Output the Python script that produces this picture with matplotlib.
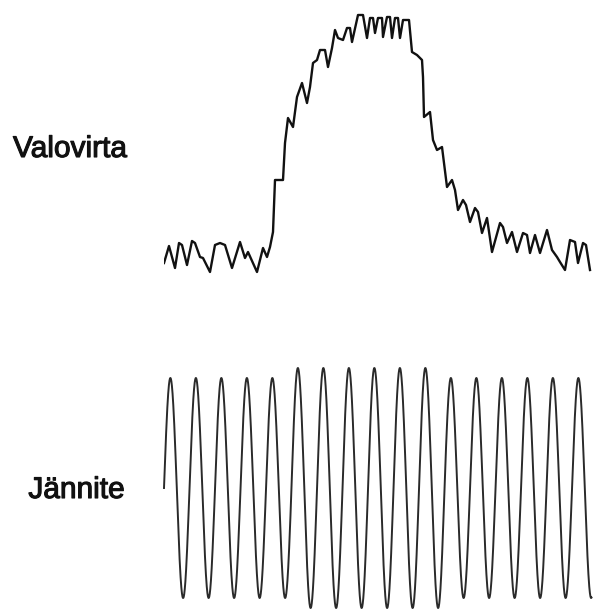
import numpy as np
import matplotlib
matplotlib.use("Agg")
from matplotlib import pyplot as plt
from matplotlib import patheffects as pe

# light flux trace: (time in samples, relative level)
flux_trace = [
    (0, 12), (5, 29), (11, 7), (15, 32), (18, 30), (23, 10), (28, 34), (31, 32),
    (36, 18), (39, 17), (46, 3), (51, 30), (56, 32), (61, 30), (68, 7), (76, 33),
    (81, 17), (84, 23), (93, 3), (99, 27), (103, 18), (106, 28), (109, 43),
    (111, 95), (119, 95), (121, 132), (124, 157), (129, 148), (133, 178), (138, 192),
    (143, 172), (146, 188), (149, 212), (153, 215), (156, 225), (161, 225), (164, 208),
    (168, 227), (171, 245), (174, 237), (179, 235), (183, 247), (186, 247), (188, 233),
    (194, 260), (199, 260), (203, 237), (206, 257), (209, 257), (211, 242), (214, 257),
    (218, 257), (219, 238), (223, 258), (226, 258), (228, 237), (231, 257), (234, 257),
    (236, 237), (239, 255), (245, 255), (248, 223), (253, 220), (258, 215), (259, 198),
    (260, 158), (266, 163), (269, 135), (273, 125), (278, 128), (283, 88), (288, 95),
    (291, 85), (294, 65), (299, 75), (302, 70), (306, 53), (311, 67), (314, 63),
    (318, 42), (323, 57), (328, 23), (336, 52), (339, 48), (343, 32), (348, 43),
    (353, 23), (359, 42), (363, 40), (366, 22), (371, 40), (376, 22), (383, 45),
    (388, 25), (393, 18), (396, 13), (401, 5), (406, 35), (411, 33), (414, 12),
    (419, 32), (422, 30), (426, 5),
]
flux_t = [p[0] for p in flux_trace]
flux_v = [p[1] for p in flux_trace]

# supply voltage: amplitude of each cycle
volt_period = 25.5
volt_amp = [110, 110, 110, 110, 110, 120, 120, 120, 120, 120, 120,
            110, 110, 110, 110, 110, 110]
volt_end = 427.5

labels = ["Valovirta", "Jännite"]

W, H = 593, 609
fig = plt.figure(figsize=(W / 100, H / 100), dpi=100)
fig.patch.set_facecolor("white")

def px_axes(x0, x1, y0, y1):
    # axes placed by pixel box (top-left origin)
    return fig.add_axes([x0 / W, 1 - y1 / H, (x1 - x0) / W, (y1 - y0) / H])

ax1 = px_axes(164, 593, 0, 290)
ax1.plot(flux_t, flux_v, color="#111111", lw=1.7, solid_joinstyle="round")
ax1.set_xlim(0, 429)
ax1.set_ylim(-15, 275)
ax1.axis("off")

ax2 = px_axes(164, 593, 360, 609)
t = np.linspace(0, volt_end, 4000)
cyc = np.clip((t / volt_period).astype(int), 0, len(volt_amp) - 1)
amp = np.array(volt_amp)[cyc]
v = amp * np.sin(2 * np.pi * t / volt_period)
ax2.plot(t, v, color="#2a2a2a", lw=1.4, clip_on=False)
ax2.set_xlim(0, 429)
ax2.set_ylim(-121, 128)
ax2.axis("off")

# slightly heavier text, like the scanned original
heavy = [pe.withStroke(linewidth=0.8, foreground="#111")]
fig.text(127 / W, 1 - 157 / H, labels[0], ha="right", va="baseline",
         fontsize=21.5, family="Liberation Sans", color="#111", path_effects=heavy)
fig.text(125 / W, 1 - 498 / H, labels[1], ha="right", va="baseline",
         fontsize=21.5, family="Liberation Sans", color="#111", path_effects=heavy)

fig.savefig("out.png", dpi=100, facecolor="white")
